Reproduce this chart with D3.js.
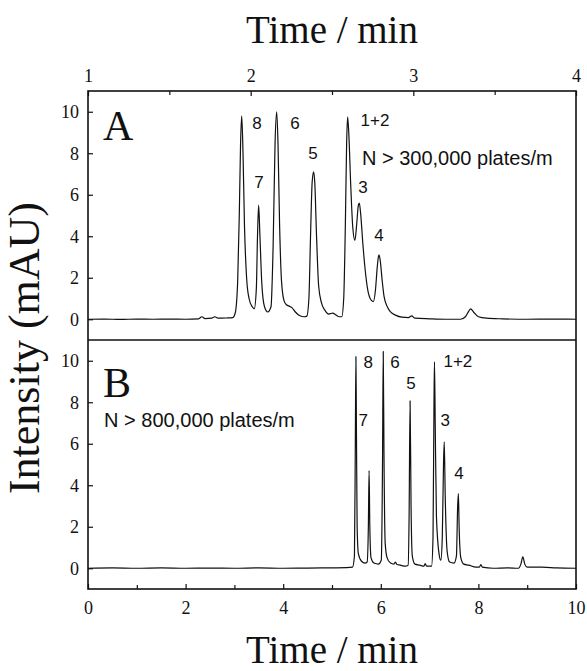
<!DOCTYPE html>
<html lang="en">
<head>
<meta charset="UTF-8">
<title>Chromatograms A / B</title>
<script src="https://cdn.jsdelivr.net/npm/d3@7"></script>
<style>
  body { margin: 0; background: #fff; }
  .tick text { font-family: "Liberation Serif", "Times New Roman", serif; font-size: 18px; fill: #111; }
  .tick line { stroke: #111; stroke-width: 1.2; }
  .domain { display: none; }
</style>
</head>
<body>
<svg id="chart" width="587" height="671"></svg>
<script>
// ---- data ----
var topTicks = [1, 2, 3, 4];
var topMinor = [1.5, 2.5, 3.5];
var bottomTicks = [0, 2, 4, 6, 8, 10];
var bottomMinor = [1, 3, 5, 7, 9];
var yTicks = [0, 2, 4, 6, 8, 10];

// panel A trace, time on the top axis (min), intensity (mAU)
var timeA = [1.00, 1.10, 1.20, 1.30, 1.40, 1.50, 1.60, 1.68, 1.70, 1.72, 1.76, 1.78, 1.80, 1.85, 1.89,
  1.905, 1.92, 1.93, 1.938, 1.945, 1.953, 1.962, 1.975, 1.99, 2.01, 2.022,
  2.035, 2.042, 2.049, 2.057, 2.068, 2.085, 2.105,
  2.125, 2.138, 2.150, 2.160, 2.168, 2.178, 2.19, 2.205, 2.22, 2.24, 2.255, 2.275, 2.30, 2.33, 2.345,
  2.358, 2.368, 2.378, 2.387, 2.394, 2.405, 2.418, 2.435, 2.455, 2.48, 2.505, 2.525, 2.545, 2.56,
  2.572, 2.582, 2.590, 2.596, 2.603, 2.615, 2.628, 2.641, 2.652, 2.662, 2.668, 2.676,
  2.69, 2.705, 2.72, 2.738, 2.754, 2.767, 2.778, 2.785, 2.789, 2.797, 2.808, 2.82, 2.84, 2.86, 2.89,
  2.93, 2.97, 2.99, 3.01, 3.10, 3.20, 3.29, 3.32, 3.34, 3.352, 3.37, 3.40, 3.45, 3.55, 3.70, 3.85, 4.00];
var signalA = [0.00, 0.01, -0.01, 0.01, 0.00, 0.01, 0.00, 0.02, 0.12, 0.03, 0.05, 0.12, 0.05, 0.06, 0.08,
  0.3, 1.8, 5.0, 8.5, 9.8, 8.0, 4.5, 2.0, 1.0, 0.6, 0.5,
  1.5, 4.0, 5.5, 4.0, 1.8, 0.6, 0.35,
  0.6, 3.5, 8.5, 10.0, 8.5, 4.5, 1.8, 0.9, 0.7, 0.62, 0.55, 0.35, 0.18, 0.12, 0.15,
  1.0, 4.0, 6.6, 7.1, 6.6, 4.0, 1.6, 0.8, 0.45, 0.25, 0.3, 0.2, 0.12, 0.12,
  1.0, 4.5, 8.5, 9.75, 9.0, 6.5, 4.4, 3.8, 4.6, 5.5, 5.6, 5.1,
  3.6, 2.3, 1.4, 0.95, 0.85, 1.4, 2.5, 3.0, 3.1, 2.8, 1.9, 1.1, 0.6, 0.35, 0.2,
  0.1, 0.08, 0.16, 0.05, 0.02, 0.00, 0.00, 0.12, 0.38, 0.5, 0.35, 0.12, 0.05, 0.02, 0.00, 0.01, 0.00];

// panel B trace, time on the bottom axis (min)
var timeB = [0.0, 0.5, 1.0, 1.5, 2.0, 2.5, 3.0, 3.5, 4.0, 4.5, 5.0, 5.3, 5.42,
  5.46, 5.478, 5.49, 5.50, 5.515, 5.54, 5.60, 5.68, 5.72, 5.745, 5.76, 5.775, 5.80, 5.86, 5.95,
  6.01, 6.035, 6.05, 6.065, 6.09, 6.13, 6.20, 6.27, 6.30, 6.33, 6.40, 6.50, 6.56,
  6.58, 6.60, 6.62, 6.645, 6.70, 6.80, 6.88, 6.91, 6.94, 7.04,
  7.07, 7.09, 7.10, 7.115, 7.14, 7.20, 7.23, 7.26, 7.285, 7.30, 7.32, 7.36, 7.41, 7.50,
  7.55, 7.575, 7.59, 7.605, 7.64, 7.70, 7.80, 7.95, 8.02, 8.05, 8.08, 8.30, 8.60, 8.82,
  8.87, 8.91, 8.95, 9.00, 9.30, 9.60, 10.0];
var signalB = [0.00, 0.02, 0.00, 0.02, 0.00, 0.01, 0.00, 0.02, 0.00, 0.01, 0.02, 0.03, 0.05,
  0.6, 6.0, 10.2, 7.0, 2.0, 0.7, 0.35, 0.25, 0.3, 2.0, 4.7, 2.0, 0.5, 0.25, 0.2,
  0.4, 5.0, 10.45, 5.5, 1.2, 0.5, 0.25, 0.2, 0.3, 0.18, 0.15, 0.1, 0.15,
  2.5, 8.07, 3.0, 0.6, 0.2, 0.15, 0.1, 0.22, 0.1, 0.1,
  1.5, 8.0, 9.95, 7.0, 2.5, 0.6, 0.39, 1.5, 5.0, 6.09, 3.5, 0.8, 0.3, 0.25,
  0.6, 3.0, 3.6, 2.0, 0.5, 0.2, 0.15, 0.05, 0.05, 0.18, 0.05, 0.00, 0.02, 0.00,
  0.2, 0.55, 0.2, 0.05, 0.05, 0.02, 0.00];

// peak labels (time, intensity where the label sits)
var peakNames = ["8", "7", "6", "5", "1+2", "3", "4"];
var labelTimeA = [2.039, 2.051, 2.272, 2.383, 2.764, 2.690, 2.789];
var labelValueA = [9.47, 6.62, 9.47, 8.02, 9.61, 6.38, 4.06];
var labelTimeB = [5.74, 5.64, 6.29, 6.62, 7.58, 7.32, 7.60];
var labelValueB = [9.94, 7.14, 9.94, 8.92, 9.99, 7.14, 4.58];

// ---- layout ----
var svg = d3.select("#chart"),
    left = 88, right = 576,
    topA = 91, mid = 340, bottomB = 589,
    serif = "'Liberation Serif', 'Times New Roman', serif",
    sans = "'Liberation Sans', Arial, sans-serif";

var xTop = d3.scaleLinear().domain([1, 4]).range([left, right]);
var xBot = d3.scaleLinear().domain([0, 10]).range([left, right]);
var yA = d3.scaleLinear().domain([-1, 11]).range([mid, topA]);
var yB = d3.scaleLinear().domain([-1, 11]).range([bottomB, mid]);

svg.append("defs").selectAll("clipPath")
    .data([["clipA", topA, mid], ["clipB", mid, bottomB]])
    .enter().append("clipPath").attr("id", function (d) { return d[0]; })
    .append("rect").attr("x", left).attr("y", function (d) { return d[1]; })
    .attr("width", right - left).attr("height", function (d) { return d[2] - d[1]; });

// axes (ticks point inward)
svg.append("g").attr("transform", "translate(0," + topA + ")")
    .call(d3.axisTop(xTop).tickValues(topTicks).tickFormat(d3.format("d")).tickSizeInner(-5).tickPadding(9));
svg.append("g").attr("transform", "translate(0," + topA + ")")
    .call(d3.axisTop(xTop).tickValues(topMinor).tickFormat("").tickSizeInner(-4));

svg.append("g").attr("transform", "translate(0," + bottomB + ")")
    .call(d3.axisBottom(xBot).tickValues(bottomTicks).tickFormat(d3.format("d")).tickSizeInner(-5).tickPadding(12));
svg.append("g").attr("transform", "translate(0," + bottomB + ")")
    .call(d3.axisBottom(xBot).tickValues(bottomMinor).tickFormat("").tickSizeInner(-4));

[yA, yB].forEach(function (y) {
  svg.append("g").attr("transform", "translate(" + left + ",0)")
      .call(d3.axisLeft(y).tickValues(yTicks).tickFormat(d3.format("d")).tickSizeInner(-5).tickPadding(9));
});

// frames
svg.append("rect").attr("x", left).attr("y", topA).attr("width", right - left).attr("height", bottomB - topA)
    .attr("fill", "none").attr("stroke", "#111").attr("stroke-width", 1.6);
svg.append("line").attr("x1", left).attr("x2", right).attr("y1", mid).attr("y2", mid)
    .attr("stroke", "#111").attr("stroke-width", 1.6);

// traces
var lineA = d3.line().x(function (d) { return xTop(d[0]); }).y(function (d) { return yA(d[1]); }).curve(d3.curveMonotoneX);
var lineB = d3.line().x(function (d) { return xBot(d[0]); }).y(function (d) { return yB(d[1]); }).curve(d3.curveMonotoneX);

svg.append("path").datum(d3.zip(timeA, signalA))
    .attr("clip-path", "url(#clipA)")
    .attr("fill", "none").attr("stroke", "#111").attr("stroke-width", 1.2).attr("stroke-linejoin", "round")
    .attr("d", lineA);
svg.append("path").datum(d3.zip(timeB, signalB))
    .attr("clip-path", "url(#clipB)")
    .attr("fill", "none").attr("stroke", "#111").attr("stroke-width", 1.2).attr("stroke-linejoin", "round")
    .attr("d", lineB);

// peak labels
svg.append("g").selectAll("text").data(peakNames).enter().append("text")
    .attr("x", function (d, i) { return xTop(labelTimeA[i]); })
    .attr("y", function (d, i) { return yA(labelValueA[i]); })
    .attr("dy", "0.36em").attr("text-anchor", "middle")
    .attr("font-family", sans).attr("font-size", 17).attr("fill", "#111")
    .text(function (d) { return d; });
svg.append("g").selectAll("text").data(peakNames).enter().append("text")
    .attr("x", function (d, i) { return xBot(labelTimeB[i]); })
    .attr("y", function (d, i) { return yB(labelValueB[i]); })
    .attr("dy", "0.36em").attr("text-anchor", "middle")
    .attr("font-family", sans).attr("font-size", 17).attr("fill", "#111")
    .text(function (d) { return d; });

// panel notes
svg.append("text").attr("x", xTop(2.684)).attr("y", yA(7.78)).attr("dy", "0.36em")
    .attr("font-family", sans).attr("font-size", 20).attr("fill", "#111").text("N > 300,000 plates/m");
svg.append("text").attr("x", xBot(0.33)).attr("y", yB(7.14)).attr("dy", "0.36em")
    .attr("font-family", sans).attr("font-size", 20).attr("fill", "#111").text("N > 800,000 plates/m");

svg.append("text").attr("x", 103).attr("y", 140)
    .attr("font-family", serif).attr("font-size", 42).attr("fill", "#111").text("A");
svg.append("text").attr("x", 103).attr("y", 397)
    .attr("font-family", serif).attr("font-size", 42).attr("fill", "#111").text("B");

// titles
svg.append("text").attr("x", 332).attr("y", 43).attr("text-anchor", "middle")
    .attr("font-family", serif).attr("font-size", 39).attr("fill", "#111").text("Time / min");
svg.append("text").attr("x", 332).attr("y", 663).attr("text-anchor", "middle")
    .attr("font-family", serif).attr("font-size", 39).attr("fill", "#111").text("Time / min");
svg.append("text").attr("transform", "translate(39,348) rotate(-90)").attr("text-anchor", "middle")
    .attr("font-family", serif).attr("font-size", 44).attr("fill", "#111").text("Intensity (mAU)");
</script>
</body>
</html>
